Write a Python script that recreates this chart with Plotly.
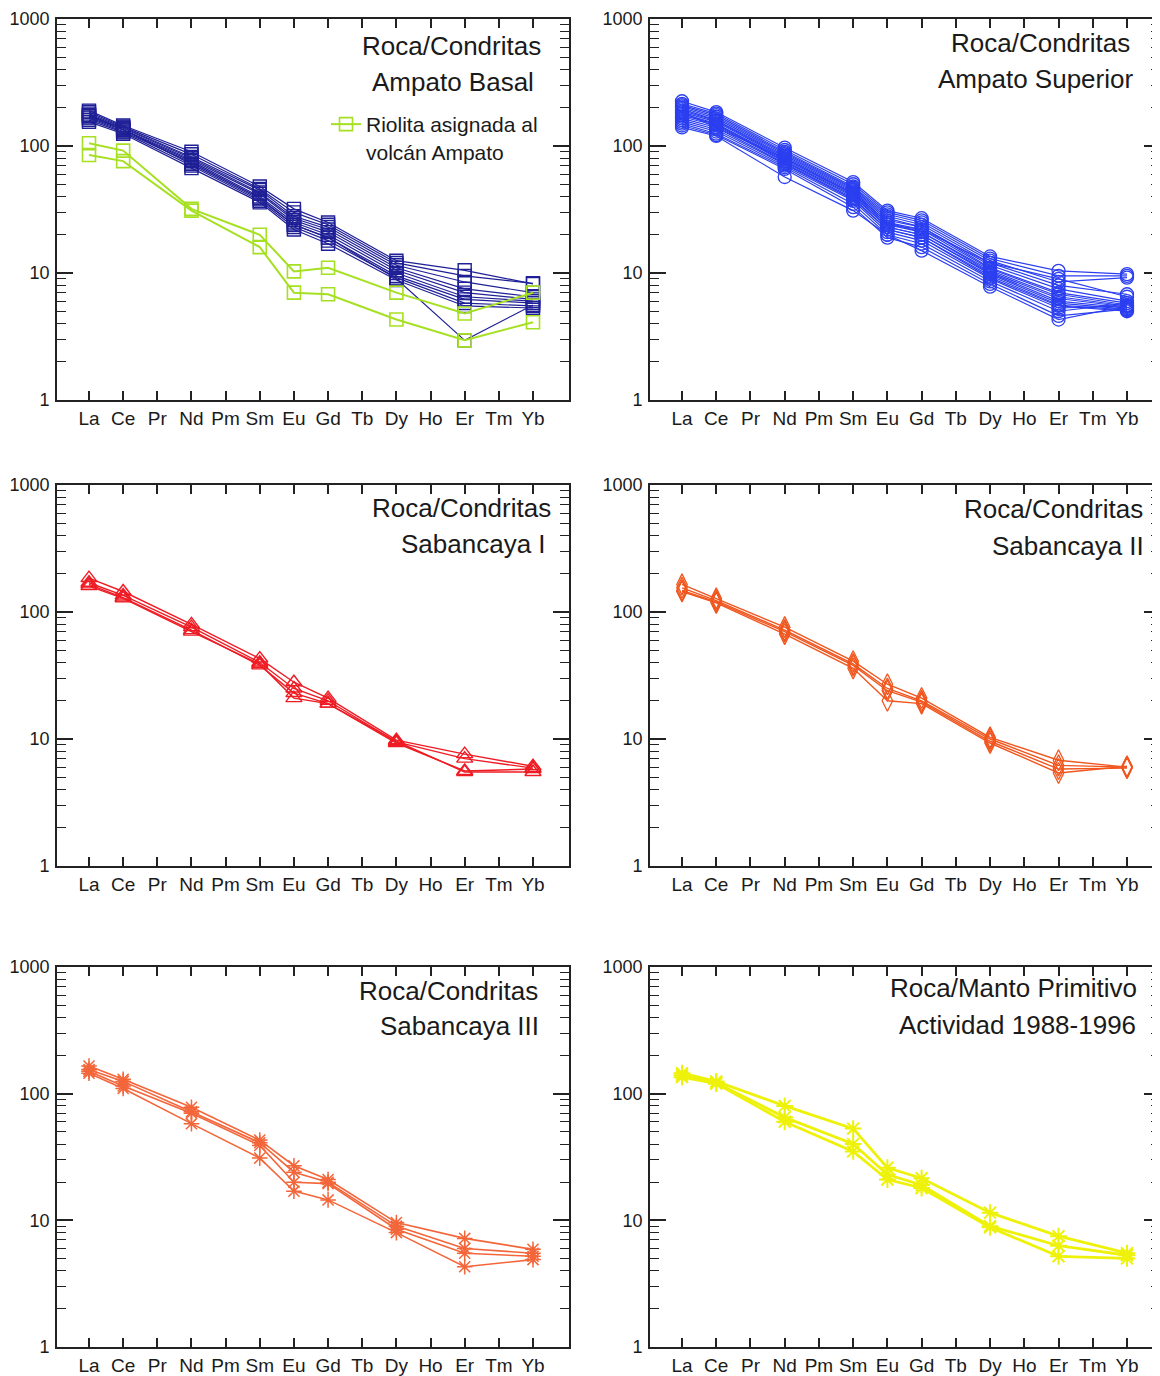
import plotly.graph_objects as go

# ---------------- data ----------------
ELEMENTS = ["La", "Ce", "Pr", "Nd", "Pm", "Sm", "Eu", "Gd", "Tb", "Dy", "Ho", "Er", "Tm", "Yb"]
MEASURED = ["La", "Ce", "Nd", "Sm", "Eu", "Gd", "Dy", "Er", "Yb"]
Y_TICKS = [1, 10, 100, 1000]
Y_TICK_TEXT = ["1", "10", "100", "1000"]

AMPATO_BASAL = [
    [190, 145, 90, 48, 32, 25, 12.5, 10.5, 8.2],
    [185, 142, 86, 46, 30, 24, 12.0, 9.5, 8.3],
    [180, 140, 82, 45, 28, 23, 11.5, 8.5, 7.0],
    [175, 138, 80, 43, 27, 22, 11.0, 7.5, 6.5],
    [172, 135, 78, 42, 26, 21, 10.5, 7.0, 6.2],
    [168, 133, 76, 40, 25, 20, 10.0, 6.5, 6.0],
    [165, 130, 74, 39, 24, 19, 9.5, 6.2, 5.8],
    [160, 128, 70, 37, 23, 18, 9.2, 5.8, 5.5],
    [155, 125, 67, 36, 22, 17, 8.8, 5.5, 5.3],
    [175, 135, 72, 38, 24, 19, 9.0, 2.95, 5.6],
]
RIOLITA = [
    [105, 92, 32, 20, 10.3, 11.0, 7.0, 4.8, 7.0],
    [85, 76, 31, 16, 7.0, 6.8, 4.3, 2.95, 4.1],
]
AMPATO_SUPERIOR = [
    [225, 185, 97, 52, 31, 27, 13.5, 10.4, 9.8],
    [215, 180, 93, 50, 30, 26, 13.0, 9.5, 9.5],
    [210, 175, 90, 48, 29, 25, 12.5, 8.5, 9.2],
    [205, 170, 88, 47, 28, 24, 12.0, 8.0, 6.8],
    [200, 165, 86, 46, 27, 23, 11.5, 7.5, 6.0],
    [195, 160, 84, 45, 26, 23, 11.0, 7.0, 5.8],
    [190, 158, 82, 44, 25, 22, 10.8, 6.8, 5.6],
    [185, 155, 80, 43, 25, 21, 10.5, 6.5, 5.5],
    [180, 150, 78, 42, 24, 21, 10.2, 6.3, 5.4],
    [175, 148, 76, 41, 23, 20, 10.0, 6.0, 5.3],
    [170, 145, 75, 40, 23, 20, 9.8, 5.8, 5.2],
    [165, 140, 73, 39, 22, 19, 9.5, 5.6, 5.1],
    [160, 135, 72, 38, 22, 19, 9.2, 5.5, 5.0],
    [155, 130, 70, 37, 21, 18, 9.0, 5.3, 5.5],
    [150, 125, 68, 35, 20, 17, 8.6, 5.0, 5.8],
    [145, 122, 66, 33, 19, 16, 8.2, 4.6, 5.2],
    [140, 120, 57, 31, 20, 15, 7.8, 4.3, 5.5],
    [185, 140, 80, 42, 24, 22, 12.0, 9.0, 6.5],
]
SABANCAYA_I = [
    [185, 145, 80, 43, 28, 21, 9.8, 7.6, 6.1],
    [170, 135, 76, 40, 25, 20, 9.5, 7.0, 5.9],
    [165, 130, 72, 38, 23, 19, 9.3, 5.6, 5.8],
    [160, 128, 70, 39, 21, 19, 9.6, 5.5, 5.5],
]
SABANCAYA_II = [
    [165, 128, 76, 41, 27, 21, 10.3, 6.8, 6.0],
    [155, 123, 72, 39, 25, 20, 10.0, 6.2, 6.0],
    [148, 120, 70, 38, 24, 19.5, 9.6, 5.8, 5.9],
    [145, 118, 67, 36, 20, 19, 9.3, 5.4, 6.1],
]
SABANCAYA_III = [
    [165, 130, 78, 43, 27, 21, 9.6, 7.2, 5.9],
    [155, 125, 72, 41, 24, 20, 9.0, 6.0, 5.5],
    [150, 115, 70, 39, 20, 19.5, 8.5, 5.5, 5.2],
    [145, 110, 58, 31, 17, 14.5, 8.0, 4.3, 4.9],
]
ACTIVIDAD = [
    [145, 125, 80, 53, 26, 21.5, 11.5, 7.5, 5.5],
    [140, 122, 65, 40, 23, 19, 9.0, 6.3, 5.3],
    [135, 120, 60, 35, 21, 18, 8.8, 5.2, 5.0],
]

# ---------------- style ----------------
W, H = 1160, 1376
OFF = 8  # page body margin
FONT = "Liberation Sans, Arial, sans-serif"
X_POS = [ELEMENTS.index(e) for e in MEASURED]


def px_x(p):
    return (p - OFF) / W


def px_y(p):
    return 1 - (p - OFF) / H


LEFT_DOM = [px_x(57), px_x(569)]
RIGHT_DOM = [px_x(650), px_x(1160)]
LEFT_RANGE = [-0.937, 14.054]
RIGHT_RANGE = [-0.935, 13.964]
ROW_DOM = [
    [px_y(400), px_y(19)],
    [px_y(866), px_y(485)],
    [px_y(1347), px_y(967)],
]

fig = go.Figure()


def add_group(idx, rows, color, symbol, lw=1.3, msize=11, mlw=1.3, name=None, legend_first=False):
    ax = "" if idx == 1 else str(idx)
    for k, vals in enumerate(rows):
        fig.add_trace(go.Scatter(
            x=X_POS, y=vals, mode="lines+markers",
            xaxis="x" + ax, yaxis="y" + ax,
            line=dict(color=color, width=lw),
            marker=dict(symbol=symbol, size=msize, color=color,
                        line=dict(color=color, width=mlw)),
            name=name if name else "",
            showlegend=bool(legend_first and k == 0),
            hoverinfo="skip",
        ))


NAVY = "#1f1f96"
GREEN = "#a6e022"
BLUE = "#2b3ff0"
RED = "#ee1c24"
ORANGE = "#f0561e"
ORANGE2 = "#f3663a"
YELLOW = "#eef20a"

add_group(1, AMPATO_BASAL, NAVY, "square-open", lw=1.2, msize=13, mlw=1.4)
add_group(1, RIOLITA, GREEN, "square-open", lw=2.0, msize=13, mlw=1.6,
          name="Riolita asignada al<br>volcán Ampato", legend_first=True)
add_group(2, AMPATO_SUPERIOR, BLUE, "circle-open", lw=1.2, msize=13)
add_group(3, SABANCAYA_I, RED, "triangle-up-open", lw=1.4, msize=14, mlw=1.4)
add_group(4, SABANCAYA_II, ORANGE, "diamond-tall-open", lw=1.4, msize=15, mlw=1.3)
add_group(5, SABANCAYA_III, ORANGE2, "asterisk-open", lw=1.6, msize=13, mlw=1.5)
add_group(6, ACTIVIDAD, YELLOW, "asterisk-open", lw=2.8, msize=14, mlw=2.0)

layout = dict(
    width=W, height=H,
    margin=dict(l=0, r=0, t=0, b=0, autoexpand=False),
    paper_bgcolor="white", plot_bgcolor="white",
    showlegend=True,
    legend=dict(x=px_x(326), y=px_y(104), xanchor="left", yanchor="top",
                bgcolor="rgba(0,0,0,0)", borderwidth=0,
                font=dict(family=FONT, size=21, color="#1a1a1a"),
                valign="top", tracegroupgap=0),
)

for i in range(6):
    r, c = divmod(i, 2)
    ax = "" if i == 0 else str(i + 1)
    layout["xaxis" + ax] = dict(
        domain=LEFT_DOM if c == 0 else RIGHT_DOM,
        anchor="y" + ax, automargin=False,
        range=LEFT_RANGE if c == 0 else RIGHT_RANGE,
        tickmode="array", tickvals=list(range(len(ELEMENTS))), ticktext=ELEMENTS,
        ticks="inside", ticklen=9, tickwidth=1.5, tickcolor="#222",
        showline=True, linecolor="#222", linewidth=1.8, mirror="ticks",
        showgrid=False, zeroline=False,
        tickfont=dict(family=FONT, size=19, color="#1a1a1a"),
        ticklabelstandoff=0,
    )
    layout["yaxis" + ax] = dict(
        domain=ROW_DOM[r], anchor="x" + ax, automargin=False,
        type="log", range=[0, 3],
        tickmode="array", tickvals=Y_TICKS, ticktext=Y_TICK_TEXT,
        ticks="inside", ticklen=16, tickwidth=1.5, tickcolor="#222",
        minor=dict(ticks="inside", ticklen=9, tickwidth=1.3, tickcolor="#222",
                   dtick="D1", showgrid=False),
        showline=True, linecolor="#222", linewidth=1.8, mirror="ticks",
        showgrid=False, zeroline=False,
        tickfont=dict(family=FONT, size=18, color="#1a1a1a"),
        ticklabelstandoff=2,
    )

fig.update_layout(**layout)

LABELS = [
    ("Roca/Condritas", 543, 46), ("Ampato Basal", 536, 82),
    ("Roca/Condritas", 1132, 43), ("Ampato Superior", 1135, 79),
    ("Roca/Condritas", 553, 508), ("Sabancaya I", 548, 544),
    ("Roca/Condritas", 1145, 509), ("Sabancaya II", 1146, 546),
    ("Roca/Condritas", 540, 991), ("Sabancaya III", 541, 1026),
    ("Roca/Manto Primitivo", 1139, 988), ("Actividad 1988-1996", 1138, 1025),
]
for text, px, py in LABELS:
    fig.add_annotation(
        text=text, xref="paper", yref="paper", x=px_x(px), y=px_y(py),
        xanchor="right", yanchor="middle", showarrow=False,
        font=dict(family=FONT, size=26, color="#1a1a1a"),
    )

fig.write_html("out.html")
